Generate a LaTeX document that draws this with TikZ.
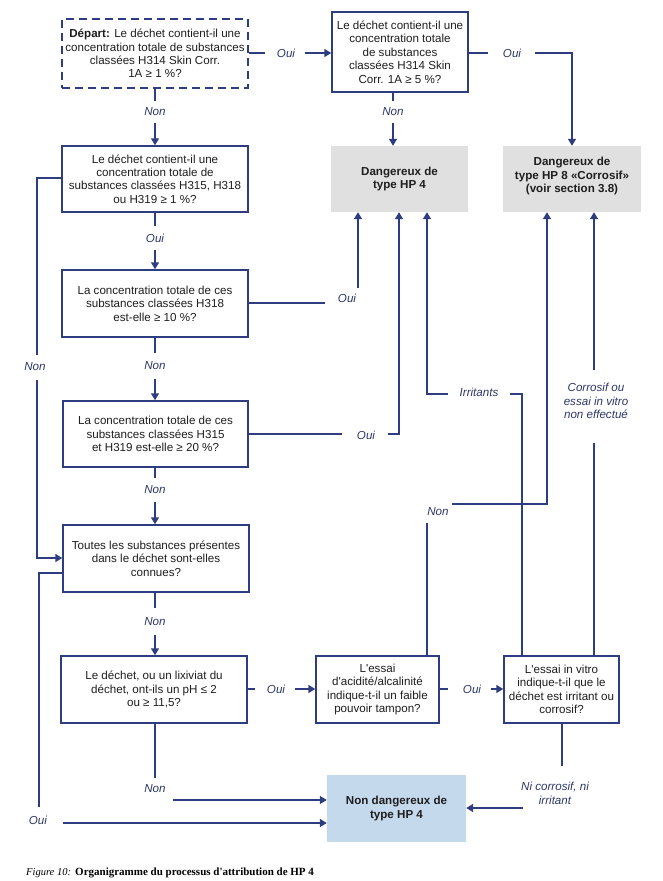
\documentclass[tikz,border=0pt]{standalone}
\usepackage{fontspec}
\setmainfont{Liberation Sans}
\newfontfamily\capfont{Liberation Serif}
\usetikzlibrary{arrows.meta}
\definecolor{navy}{RGB}{46,60,128}
\definecolor{labc}{RGB}{45,55,105}
\definecolor{txt}{RGB}{30,30,30}
\definecolor{greyf}{RGB}{224,224,224}
\definecolor{bluef}{RGB}{197,217,237}
\begin{document}
\begin{tikzpicture}[x=1pt,y=-1pt,
  box/.style={draw=navy,line width=1.5pt,fill=white,align=center,inner sep=0pt,text=txt,
    font=\fontsize{11.6}{13.4}\selectfont},
  resbox/.style={fill=greyf,align=center,inner sep=0pt,text=txt,
    font=\fontsize{11.6}{13.4}\selectfont\bfseries},
  lab/.style={text=labc,align=center,inner sep=0pt,font=\fontsize{11.6}{13.4}\selectfont\itshape},
  conn/.style={draw=navy,line width=1.5pt},
  arr/.style={draw=navy,line width=1.5pt,-{Triangle[length=7pt,width=8pt]}}
]
\useasboundingbox[fill=white] (0,0) rectangle (663,881);

% boxes
\node[box,dash pattern=on 8pt off 5pt,minimum width=186pt,minimum height=69pt] (start) at (155,53.5)
 {\textbf{Départ:} Le déchet contient-il une\\concentration totale de substances\\classées H314 Skin Corr.\\1A ≥ 1 \%?};
\node[box,minimum width=136pt,minimum height=80pt] (b2) at (400,52)
 {Le déchet contient-il une\\concentration totale\\de substances\\classées H314 Skin\\Corr. 1A ≥ 5 \%?};
\node[resbox,minimum width=137pt,minimum height=66pt] (hp4) at (399.5,179) {Dangereux de\\type HP 4};
\node[resbox,minimum width=138pt,minimum height=66pt] (hp8) at (572,179) {};
\node[resbox,fill=none] (hp8t) at (572,176) {Dangereux de\\type HP 8 «Corrosif»\\(voir section 3.8)};
\node[box,minimum width=186pt,minimum height=66pt] (b3) at (155,179)
 {Le déchet contient-il une\\concentration totale de\\substances classées H315, H318\\ou H319 ≥ 1 \%?};
\node[box,minimum width=186pt,minimum height=67pt] (b4) at (155,303.5)
 {La concentration totale de ces\\substances classées H318\\est-elle ≥ 10 \%?};
\node[box,minimum width=185pt,minimum height=66pt] (b5) at (155.5,434)
 {La concentration totale de ces\\substances classées H315\\et H319 est-elle ≥ 20 \%?};
\node[box,minimum width=186pt,minimum height=67pt] (b6) at (156,558.5)
 {Toutes les substances présentes\\dans le déchet sont-elles\\connues?};
\node[box,minimum width=186pt,minimum height=67pt] (b7) at (154,689.5)
 {Le déchet, ou un lixiviat du\\déchet, ont-ils un pH ≤ 2\\ou ≥ 11,5?};
\node[box,minimum width=123pt,minimum height=67pt] (b8) at (377.5,689.5)
 {L\textquotesingle essai\\d\textquotesingle acidité/alcalinité\\indique-t-il un faible\\pouvoir tampon?};
\node[box,minimum width=115pt,minimum height=67pt] (b9) at (561.5,689.5)
 {L\textquotesingle essai in vitro\\indique-t-il que le\\déchet est irritant ou\\corrosif?};
\node[resbox,fill=bluef,minimum width=139pt,minimum height=67pt] (b10) at (396.5,808.5)
 {Non dangereux de\\type HP 4};

% 1 start -> b2
\node[lab] (l1) at (286,53) {Oui};
\draw[conn] (start.east |- 0,53) -- (265,53);
\draw[arr] (305,53) -- (b2.west |- 0,53);
% 2 b2 -> hp8
\node[lab] (l2) at (512,53) {Oui};
\draw[conn] (b2.east |- 0,53) -- (488,53);
\draw[arr] (535,53) -- (572,53) -- (hp8.north);
% 3 b2 -> hp4
\node[lab] (l3) at (393,112) {Non};
\draw[conn] (b2.south -| 393,0) -- (393,101);
\draw[arr] (393,123) -- (hp4.north -| 393,0);
% 4 start -> b3
\node[lab] (l4) at (155,112) {Non};
\draw[conn] (start.south) -- (155,101);
\draw[arr] (155,123) -- (b3.north);
% 5 b3 -> b6 (left)
\node[lab] (l5) at (35,367) {Non};
\draw[conn] (b3.west |- 0,178) -- (37,178) -- (37,355);
\draw[arr] (37,380) -- (37,558) -- (b6.west |- 0,558);
% 6 b3 -> b4
\node[lab] (l6) at (155,238) {Oui};
\draw[conn] (b3.south) -- (155,226);
\draw[arr] (155,250) -- (b4.north);
% 7 b4 -> hp4
\node[lab] (l7) at (347,298) {Oui};
\draw[conn] (b4.east |- 0,303) -- (325,303);
\draw[arr] (358,288) -- (hp4.south -| 358,0);
% 8 b4 -> b5
\node[lab] (l8) at (155,366) {Non};
\draw[conn] (b4.south) -- (155,353);
\draw[arr] (155,379) -- (b5.north -| 155,0);
% 9 b5 -> hp4
\node[lab] (l9) at (366,435) {Oui};
\draw[conn] (b5.east |- 0,434) -- (342,434);
\draw[arr] (388,434) -- (399,434) -- (hp4.south -| 399,0);
% 10 b5 -> b6
\node[lab] (l10) at (155,490) {Non};
\draw[conn] (b5.south -| 155,0) -- (155,478);
\draw[arr] (155,502) -- (b6.north -| 155,0);
% 11 b6 -> b10 (Oui, left)
\node[lab] (l11) at (38,820) {Oui};
\draw[conn] (b6.west |- 0,573) -- (39,573) -- (39,807);
\draw[arr] (63,823) -- (b10.west |- 0,823);
% 12 b6 -> b7
\node[lab] (l12) at (155,622) {Non};
\draw[conn] (b6.south -| 155,0) -- (155,608);
\draw[arr] (155,635) -- (b7.north -| 155,0);
% 13 b7 -> b8
\node[lab] (l13) at (276,689) {Oui};
\draw[conn] (b7.east |- 0,689) -- (255,689);
\draw[arr] (295,689) -- (b8.west |- 0,689);
% 14 b8 -> b9
\node[lab] (l14) at (472,689) {Oui};
\draw[conn] (b8.east |- 0,689) -- (448,689);
\draw[arr] (491,689) -- (b9.west |- 0,689);
% 15 b8 -> hp8 (Non)
\node[lab] (l15) at (438,512) {Non};
\draw[conn] (b8.north -| 427,0) -- (427,523);
\draw[arr] (452,504) -- (547,504) -- (hp8.south -| 547,0);
% 16 b9 -> hp4 (Irritants)
\node[lab] (l16) at (479,392) {Irritants};
\draw[conn] (b9.north -| 522,0) -- (522,394) -- (510,394);
\draw[arr] (448,394) -- (427,394) -- (hp4.south -| 427,0);
% 17 b9 -> hp8 (Corrosif)
\node[lab] (l17) at (596,401) {Corrosif ou\\essai in vitro\\non effectué};
\draw[conn] (b9.north -| 594,0) -- (594,443);
\draw[arr] (594,370) -- (hp8.south -| 594,0);
% 18 b9 -> b10
\node[lab] (l18) at (555,793.5) {Ni corrosif, ni\\irritant};
\draw[conn] (b9.south -| 562,0) -- (562,766);
\draw[arr] (523,808) -- (b10.east |- 0,808);
% 19 b7 -> b10
\node[lab] (l19) at (155,789) {Non};
\draw[conn] (b7.south -| 155,0) -- (155,778);
\draw[arr] (173,800) -- (b10.west |- 0,800);

% caption
\node[anchor=base west,inner sep=0pt,font=\capfont\fontsize{10.5}{12}\selectfont\itshape] (cap1) at (26,875) {Figure 10:};
\node[anchor=base west,inner sep=0pt,font=\capfont\fontsize{11}{13}\selectfont\bfseries] (cap2) at (75,875) {Organigramme du processus d\textquotesingle attribution de HP 4};
\end{tikzpicture}
\end{document}
